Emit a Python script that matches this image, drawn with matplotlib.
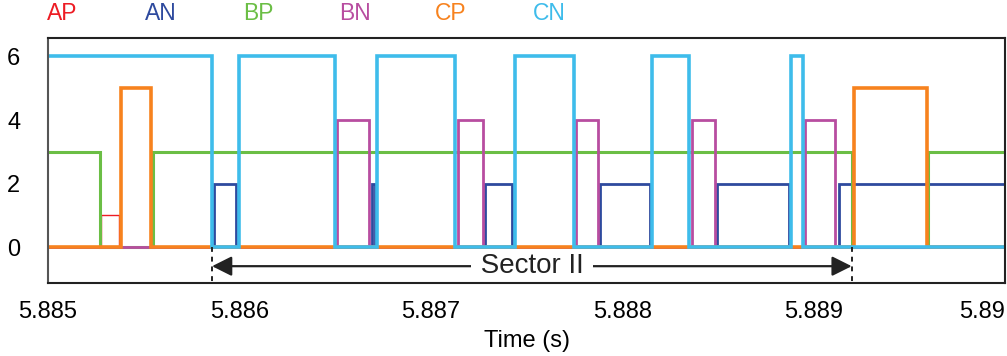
import matplotlib
matplotlib.use("Agg")
import matplotlib.pyplot as plt

plt.rcParams['font.family'] = ['Liberation Sans', 'DejaVu Sans']

# switching signals (level vs time), breakpoints for step plots
ap_t = [5.885, 5.885278, 5.885372, 5.890]
ap_v = [0, 1, 0, 0]

an_t = [5.885, 5.885869, 5.885983, 5.886695, 5.886707, 5.887284, 5.887426,
        5.887885, 5.888147, 5.888497, 5.888869, 5.889131, 5.890]
an_v = [0, 2, 0, 2, 0, 2, 0, 2, 0, 2, 0, 2, 2]

bp_t = [5.885, 5.885269, 5.885546, 5.889199, 5.889600, 5.890]
bp_v = [3, 0, 3, 0, 3, 3]

bn_t = [5.885, 5.886508, 5.886679, 5.887140, 5.887274, 5.887761, 5.887874,
        5.888363, 5.888483, 5.888954, 5.889114, 5.890]
bn_v = [0, 4, 0, 4, 0, 4, 0, 4, 0, 4, 0, 0]

cp_t = [5.885, 5.885382, 5.885538, 5.889209, 5.889595, 5.890]
cp_v = [0, 5, 0, 5, 0, 0]

cn_t = [5.885, 5.885857, 5.885996, 5.886497, 5.886721, 5.887127, 5.887440,
        5.887750, 5.888157, 5.888351, 5.888881, 5.888946, 5.890]
cn_v = [6, 0, 6, 0, 6, 0, 6, 0, 6, 0, 6, 0, 0]

names = ['AP', 'AN', 'BP', 'BN', 'CP', 'CN']
colors = ['#ED1C24', '#2E4A9E', '#6BBE45', '#B84DA0', '#F7821E', '#3EBCEB']
widths = [1.0, 2.0, 2.2, 2.0, 2.6, 2.6]

sector_start = 5.885857
sector_end = 5.889199
sector_label = 'Sector II'

xticks = [5.885, 5.886, 5.887, 5.888, 5.889, 5.890]
xtick_labels = ['5.885', '5.886', '5.887', '5.888', '5.889', '5.89']
yticks = [0, 2, 4, 6]

fig = plt.figure(figsize=(10.07, 3.56), dpi=100)
ax = fig.add_axes([0.0477, 0.205, 0.9503, 0.689])

series = [(ap_t, ap_v), (an_t, an_v), (bp_t, bp_v),
          (bn_t, bn_v), (cp_t, cp_v), (cn_t, cn_v)]
for (t, v), c, lw in zip(series, colors, widths):
    ax.step(t, v, where='post', color=c, lw=lw, solid_joinstyle='miter')

ax.set_xlim(5.885, 5.890)
ax.set_ylim(-1.13, 6.59)

# sector markers and arrow
for xs in (sector_start, sector_end):
    ax.plot([xs, xs], [0, -1.13], color='#222222', lw=1.4, ls=(0, (2.5, 2.5)))
ax.annotate('', xy=(sector_start, -0.6), xytext=(sector_end, -0.6),
            arrowprops=dict(arrowstyle='<|-|>', color='#222222', lw=1.6,
                            mutation_scale=30, shrinkA=0, shrinkB=0))
# padded with spaces so the arrow shaft breaks around the label
ax.text((sector_start + sector_end) / 2, -0.6, ' ' + sector_label + ' ',
        ha='center', va='center', fontsize=20, color='#222222',
        bbox=dict(facecolor='white', edgecolor='none', pad=1.5))

ax.set_xticks(xticks)
ax.set_xticklabels(xtick_labels)
ax.get_xticklabels()[-1].set_horizontalalignment('right')
ax.set_yticks(yticks)
ax.tick_params(axis='both', length=0, labelsize=17)
ax.tick_params(axis='x', pad=13)
ax.tick_params(axis='y', pad=20)
ax.set_xlabel('Time (s)', fontsize=17, labelpad=5)

for sp in ax.spines.values():
    sp.set_color('#222222')
    sp.set_linewidth(1.5)
ax.spines['left'].set_color('#555555')

# coloured channel names above the plot
legend_x = [47, 145, 243, 339, 435, 533]
for name, c, px in zip(names, colors, legend_x):
    fig.text(px / 1007, 1 - 13 / 356, name, color=c, fontsize=16.5,
             ha='left', va='center')

fig.savefig('out.png', dpi=100)
